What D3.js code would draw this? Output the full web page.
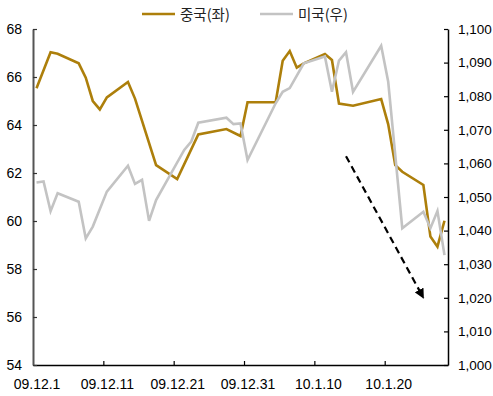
<!DOCTYPE html>
<html>
<head>
<meta charset="utf-8">
<script src="https://cdn.jsdelivr.net/npm/d3@7"></script>
<style>
  body { margin: 0; background: #fff; }
  svg { display: block; font-family: "Liberation Sans", Arial, sans-serif; }
</style>
</head>
<body>
<svg></svg>
<script>
/* data */
var chinaDates = ["2009-12-01", "2009-12-03", "2009-12-04", "2009-12-07", "2009-12-08", "2009-12-09",
  "2009-12-10", "2009-12-11", "2009-12-14", "2009-12-15", "2009-12-18", "2009-12-21", "2009-12-24",
  "2009-12-28", "2009-12-30", "2009-12-31", "2010-01-04", "2010-01-05", "2010-01-06", "2010-01-07",
  "2010-01-08", "2010-01-11", "2010-01-12", "2010-01-13", "2010-01-15", "2010-01-19", "2010-01-20",
  "2010-01-21", "2010-01-22", "2010-01-25", "2010-01-26", "2010-01-27", "2010-01-28"];
var chinaValues = [65.53, 67.03, 66.97, 66.57, 65.97, 65.0,
  64.65, 65.15, 65.79, 65.1, 62.33, 61.75, 63.61,
  63.83, 63.54, 64.95, 64.95, 66.68, 67.08, 66.39,
  66.57, 66.96, 66.71, 64.89, 64.8, 65.08, 64.03,
  62.33, 62.05, 61.5, 59.35, 58.93, 60.01];

var usDates = ["2009-12-01", "2009-12-02", "2009-12-03", "2009-12-04", "2009-12-07", "2009-12-08",
  "2009-12-09", "2009-12-11", "2009-12-14", "2009-12-15", "2009-12-16", "2009-12-17", "2009-12-18",
  "2009-12-22", "2009-12-23", "2009-12-24", "2009-12-28", "2009-12-29", "2009-12-30", "2009-12-31",
  "2010-01-04", "2010-01-05", "2010-01-06", "2010-01-08", "2010-01-11", "2010-01-12", "2010-01-13",
  "2010-01-14", "2010-01-15", "2010-01-19", "2010-01-20", "2010-01-22", "2010-01-25", "2010-01-26",
  "2010-01-27", "2010-01-28"];
var usValues = [1054.3, 1054.6, 1045.8, 1051.1, 1048.6, 1037.7,
  1041.2, 1051.6, 1059.3, 1053.9, 1055.1, 1042.9, 1049.1,
  1064.0, 1066.5, 1072.1, 1073.6, 1071.7, 1071.9, 1061.0,
  1077.9, 1081.3, 1082.4, 1089.8, 1091.8, 1081.3, 1090.6,
  1093.1, 1081.3, 1095.0, 1084.3, 1040.7, 1045.6, 1040.7,
  1045.8, 1032.7];

var xTickDates = ["2009-12-01", "2009-12-11", "2009-12-21", "2009-12-31", "2010-01-10", "2010-01-20"];
var xTickLabels = ["09.12.1", "09.12.11", "09.12.21", "09.12.31", "10.1.10", "10.1.20"];
var leftTicks = [54, 56, 58, 60, 62, 64, 66, 68];
var rightTicks = [1000, 1010, 1020, 1030, 1040, 1050, 1060, 1070, 1080, 1090, 1100];
var seriesNames = ["중국(좌)", "미국(우)"];

/* dashed trend arrow (date, left-axis value) */
var arrowDates = ["2010-01-14", "2010-01-25"];
var arrowValues = [62.7, 56.8];

var width = 493;
var height = 396;
var padLeft = 33;
var padRight = 448;
var padTop = 29;
var padBottom = 365;

var gold = "#AD7F0B";
var grey = "#C3C3C3";

var parse = d3.timeParse("%Y-%m-%d");
var svgContainer = d3.select("svg").attr("width", width).attr("height", height);

var xScale = d3.scaleTime()
  .domain([parse("2009-12-01"), parse("2010-01-29")])
  .range([padLeft, padRight]);
var yLeft = d3.scaleLinear().domain([54, 68]).range([padBottom, padTop]);
var yRight = d3.scaleLinear().domain([1000, 1100]).range([padBottom, padTop]);

/* points sit in the middle of their day, like the source chart */
var midDay = (s) => d3.timeHour.offset(parse(s), 12);
var halfDay = xScale(midDay("2009-12-01")) - xScale(parse("2009-12-01"));

var axes = () => {
  var xAxis = d3.axisBottom(xScale)
    .tickValues(xTickDates.map(parse))
    .tickSize(-4)
    .tickSizeOuter(0)
    .tickFormat((d, i) => xTickLabels[i]);
  var gx = svgContainer.append("g")
    .attr("transform", "translate(0," + padBottom + ")")
    .call(xAxis);
  gx.select(".domain").attr("stroke", "#000").attr("stroke-width", 1.5);
  gx.selectAll(".tick line").attr("stroke", "#000").attr("stroke-width", 1.2);
  gx.selectAll(".tick").filter((d, i) => i == 0).select("line").remove();
  gx.selectAll(".tick text")
    .attr("x", halfDay)
    .attr("y", 14)
    .attr("font-size", 14)
    .attr("fill", "#000");

  var yAxisL = d3.axisLeft(yLeft).tickValues(leftTicks).tickSize(-4).tickSizeOuter(0);
  var gl = svgContainer.append("g")
    .attr("transform", "translate(" + padLeft + ",0)")
    .call(yAxisL);
  gl.select(".domain").attr("stroke", "#555").attr("stroke-width", 2);
  gl.selectAll(".tick line").attr("stroke", "#333").attr("stroke-width", 1.2);
  gl.selectAll(".tick text").attr("x", -11).attr("font-size", 14).attr("fill", "#000");

  var yAxisR = d3.axisRight(yRight).tickValues(rightTicks).tickSize(-4).tickSizeOuter(0)
    .tickFormat(d3.format(","));
  var gr = svgContainer.append("g")
    .attr("transform", "translate(" + padRight + ",0)")
    .call(yAxisR);
  gr.select(".domain").attr("stroke", "#000").attr("stroke-width", 1.5);
  gr.selectAll(".tick line").attr("stroke", "#000").attr("stroke-width", 1.2);
  gr.selectAll(".tick text").attr("x", 10).attr("font-size", 13.5).attr("fill", "#000");

  svgContainer.selectAll(".domain").attr("fill", "none");
};

var lines = () => {
  var china = chinaDates.map((d, i) => ({ date: midDay(d), value: chinaValues[i] }));
  var us = usDates.map((d, i) => ({ date: midDay(d), value: usValues[i] }));

  var lineL = d3.line().x((d) => xScale(d.date)).y((d) => yLeft(d.value));
  var lineR = d3.line().x((d) => xScale(d.date)).y((d) => yRight(d.value));

  svgContainer.append("path")
    .datum(china)
    .attr("d", lineL)
    .attr("fill", "none")
    .attr("stroke", gold)
    .attr("stroke-width", 2.6)
    .attr("stroke-linejoin", "miter");

  svgContainer.append("path")
    .datum(us)
    .attr("d", lineR)
    .attr("fill", "none")
    .attr("stroke", grey)
    .attr("stroke-width", 2.6)
    .attr("stroke-linejoin", "miter");
};

var arrow = () => {
  svgContainer.append("defs")
    .append("marker")
    .attr("id", "head")
    .attr("viewBox", "0 0 10 10")
    .attr("refX", 9)
    .attr("refY", 5)
    .attr("markerWidth", 4.5)
    .attr("markerHeight", 4.5)
    .attr("orient", "auto")
    .append("path")
    .attr("d", "M0,0 L10,5 L0,10 Z")
    .attr("fill", "#000");

  svgContainer.append("line")
    .attr("x1", xScale(midDay(arrowDates[0])))
    .attr("y1", yLeft(arrowValues[0]))
    .attr("x2", xScale(midDay(arrowDates[1])))
    .attr("y2", yLeft(arrowValues[1]))
    .attr("stroke", "#000")
    .attr("stroke-width", 2.2)
    .attr("stroke-dasharray", "7,4.5")
    .attr("marker-end", "url(#head)");
};

var legend = () => {
  var colors = [gold, grey];
  var pos = [142, 260];
  seriesNames.forEach((name, i) => {
    svgContainer.append("line")
      .attr("x1", pos[i]).attr("x2", pos[i] + 33)
      .attr("y1", 14).attr("y2", 14)
      .attr("stroke", colors[i])
      .attr("stroke-width", 2.6);
    svgContainer.append("text")
      .attr("x", pos[i] + 38)
      .attr("y", 19.5)
      .attr("font-family", "'Noto Sans CJK KR', sans-serif")
      .attr("font-size", 14.5)
      .attr("fill", "#222")
      .text(name);
  });
};

axes();
lines();
arrow();
legend();
</script>
</body>
</html>
